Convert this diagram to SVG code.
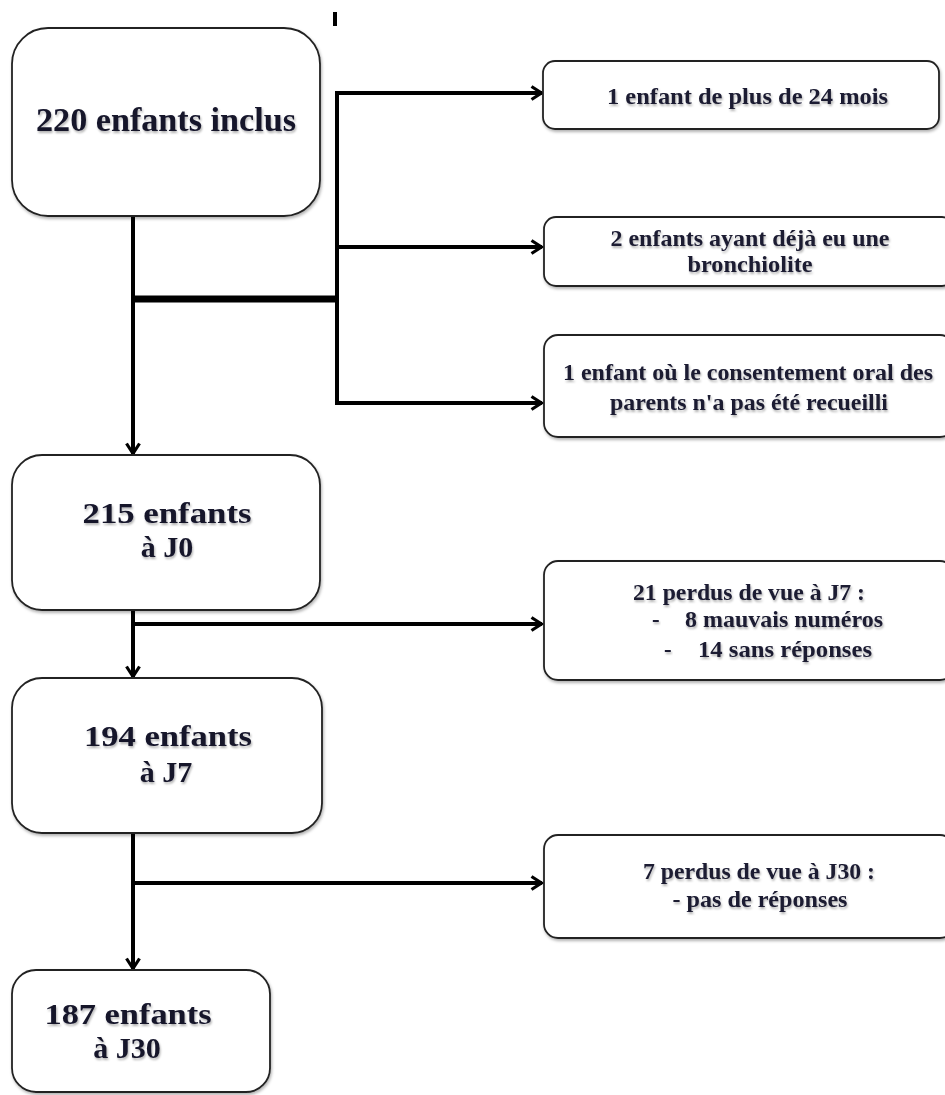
<svg xmlns="http://www.w3.org/2000/svg" width="945" height="1095" viewBox="0 0 945 1095">
<defs>
<filter id="bsh" x="-5%" y="-5%" width="110%" height="115%">
<feDropShadow dx="1" dy="2" stdDeviation="1.5" flood-color="#000" flood-opacity="0.3"/>
</filter>
<filter id="tsh" x="-5%" y="-20%" width="110%" height="150%">
<feDropShadow dx="1" dy="2" stdDeviation="1.2" flood-color="#000" flood-opacity="0.3"/>
</filter>
<marker id="arr" viewBox="0 0 14 16" refX="12.5" refY="8" markerWidth="14" markerHeight="16" markerUnits="userSpaceOnUse" orient="auto">
<path d="M2,1.5 L12,8 L2,14.5" fill="none" stroke="#000" stroke-width="3.2"/>
</marker>
</defs>
<style>
.box{fill:#fff;stroke:#222;stroke-width:1.8;filter:url(#bsh)}
.big{font-family:"Liberation Serif","Times New Roman",serif;font-weight:bold;font-size:34px;fill:#14142a;text-anchor:middle;filter:url(#tsh)}
.b2{font-size:30px}
.sm{font-family:"Liberation Serif","Times New Roman",serif;font-weight:bold;font-size:23px;fill:#1a1a30;text-anchor:middle;filter:url(#tsh)}
.st{text-anchor:start}
.ln{fill:none;stroke:#000;stroke-width:4}
.ar{fill:none;stroke:#000;stroke-width:4;marker-end:url(#arr)}
</style>
<rect width="945" height="1095" fill="#fff"/>

<g id="connectors">
<line x1="335" y1="12" x2="335" y2="26" stroke="#000" stroke-width="4"/>
<line class="ar" x1="133" y1="216" x2="133" y2="454"/>
<line x1="133" y1="299" x2="339" y2="299" stroke="#000" stroke-width="7"/>
<path class="ln" d="M337,91 V405"/>
<line class="ar" x1="335" y1="93" x2="542" y2="93"/>
<line class="ar" x1="337" y1="247" x2="542" y2="247"/>
<line class="ar" x1="335" y1="403" x2="542" y2="403"/>
<line class="ar" x1="133" y1="610" x2="133" y2="677"/>
<line class="ar" x1="131" y1="624" x2="542" y2="624"/>
<line class="ar" x1="133" y1="833" x2="133" y2="969"/>
<line class="ar" x1="131" y1="883" x2="542" y2="883"/>
</g>

<g id="n220">
<rect class="box" x="12" y="28" width="308" height="188" rx="36"/>
<text class="big" x="166" y="131" textLength="260" lengthAdjust="spacingAndGlyphs">220 enfants inclus</text>
</g>

<g id="ex1">
<rect class="box" x="543" y="61" width="396" height="68" rx="12"/>
<text class="sm" x="747.5" y="104" textLength="281" lengthAdjust="spacingAndGlyphs">1 enfant de plus de 24 mois</text>
</g>

<g id="ex2">
<rect class="box" x="544" y="217" width="410" height="69" rx="12"/>
<text class="sm" x="750" y="246" textLength="279" lengthAdjust="spacingAndGlyphs">2 enfants ayant déjà eu une</text>
<text class="sm" x="750" y="272" textLength="125" lengthAdjust="spacingAndGlyphs">bronchiolite</text>
</g>

<g id="ex3">
<rect class="box" x="544" y="335" width="410" height="102" rx="14"/>
<text class="sm" x="748" y="380" textLength="370" lengthAdjust="spacingAndGlyphs">1 enfant où le consentement oral des</text>
<text class="sm" x="749" y="410" textLength="278" lengthAdjust="spacingAndGlyphs">parents n'a pas été recueilli</text>
</g>

<g id="n215">
<rect class="box" x="12" y="455" width="308" height="155" rx="30"/>
<text class="big b2" x="167" y="523" textLength="169" lengthAdjust="spacingAndGlyphs">215 enfants</text>
<text class="big b2" x="167" y="557">à J0</text>
</g>

<g id="lost7">
<rect class="box" x="544" y="561" width="410" height="119" rx="14"/>
<text class="sm" x="749" y="600" textLength="232" lengthAdjust="spacingAndGlyphs">21 perdus de vue à J7 :</text>
<text class="sm st" x="652" y="627">-</text>
<text class="sm st" x="685" y="627" textLength="198" lengthAdjust="spacingAndGlyphs">8 mauvais numéros</text>
<text class="sm st" x="664" y="657">-</text>
<text class="sm st" x="698" y="657" textLength="174" lengthAdjust="spacingAndGlyphs">14 sans réponses</text>
</g>

<g id="n194">
<rect class="box" x="12" y="678" width="310" height="155" rx="30"/>
<text class="big b2" x="168" y="746" textLength="168" lengthAdjust="spacingAndGlyphs">194 enfants</text>
<text class="big b2" x="166" y="782">à J7</text>
</g>

<g id="lost30">
<rect class="box" x="544" y="835" width="410" height="103" rx="14"/>
<text class="sm" x="759" y="879" textLength="232" lengthAdjust="spacingAndGlyphs">7 perdus de vue à J30 :</text>
<text class="sm" x="760" y="907" textLength="175" lengthAdjust="spacingAndGlyphs">- pas de réponses</text>
</g>

<g id="n187">
<rect class="box" x="12" y="970" width="258" height="122" rx="24"/>
<text class="big b2" x="128" y="1024" textLength="167" lengthAdjust="spacingAndGlyphs">187 enfants</text>
<text class="big b2" x="127" y="1058">à J30</text>
</g>
</svg>
